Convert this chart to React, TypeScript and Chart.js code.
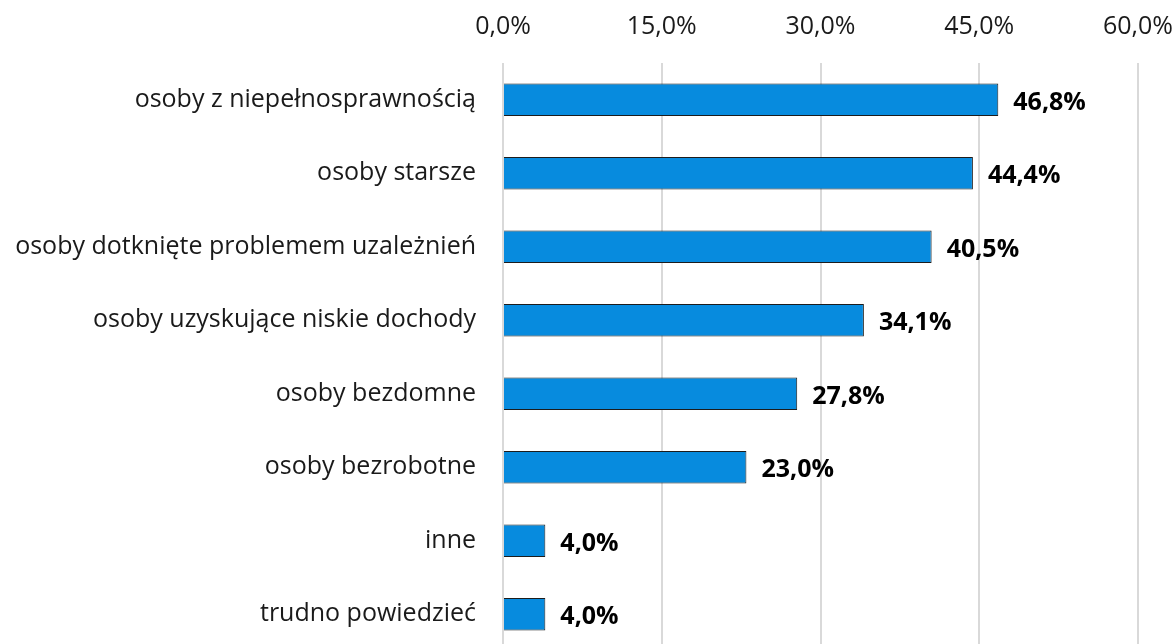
import React, { useEffect, useRef } from "react";
import { Chart, registerables } from "chart.js";

Chart.register(...registerables);

const categories = [
  "osoby z niepełnosprawnością",
  "osoby starsze",
  "osoby dotknięte problemem uzależnień",
  "osoby uzyskujące niskie dochody",
  "osoby bezdomne",
  "osoby bezrobotne",
  "inne",
  "trudno powiedzieć",
];
const values = [46.8, 44.4, 40.5, 34.1, 27.8, 23.0, 4.0, 4.0];
const tickValues = [0, 15, 30, 45, 60];

const fmt = (v: number) => v.toFixed(1).replace(".", ",") + "%";
const FONT = "'Open Sans', 'Segoe UI', sans-serif";

const labelPlugin = {
  id: "barLabels",
  afterDatasetsDraw(chart: any) {
    const ctx = chart.ctx;
    const meta = chart.getDatasetMeta(0);
    ctx.save();
    ctx.font = `bold 25px ${FONT}`;
    ctx.fillStyle = "#000000";
    ctx.textAlign = "left";
    ctx.textBaseline = "middle";
    meta.data.forEach((el: any, i: number) => {
      ctx.fillText(fmt(values[i]), el.x + 15, el.y + 3);
    });
    ctx.restore();
  },
};

export default function App() {
  const ref = useRef<HTMLCanvasElement | null>(null);
  useEffect(() => {
    if (!ref.current) return;
    const chart = new Chart(ref.current, {
      type: "bar",
      data: {
        labels: categories,
        datasets: [
          {
            data: values,
            backgroundColor: "#078BDE",
            borderColor: "#1c1c1c",
            borderWidth: 1,
            borderSkipped: "start",
            categoryPercentage: 1,
            barPercentage: 0.44,
          },
        ],
      },
      options: {
        indexAxis: "y",
        animation: false,
        responsive: false,
        maintainAspectRatio: false,
        devicePixelRatio: 1,
        layout: { padding: 0 },
        plugins: { legend: { display: false }, tooltip: { enabled: false } },
        scales: {
          x: {
            position: "top",
            min: 0,
            max: 60,
            afterBuildTicks: (s: any) => {
              s.ticks = tickValues.map((v) => ({ value: v }));
            },
            afterFit: (s: any) => {
              s.height = 63;
              s.paddingRight = 35;
              s.paddingLeft = 0;
            },
            ticks: {
              callback: (v: any) => fmt(Number(v)),
              font: { family: FONT, size: 25 },
              color: "#1a1a1a",
              padding: 21,
              maxRotation: 0,
            },
            grid: { color: "#d9d9d9", lineWidth: 2, drawTicks: false },
            border: { display: false },
          },
          y: {
            afterFit: (s: any) => {
              s.width = 503;
              s.paddingTop = 0;
              s.paddingBottom = 0;
            },
            ticks: {
              font: { family: FONT, size: 25 },
              color: "#1a1a1a",
              padding: 27,
            },
            grid: { display: false, drawTicks: false },
            border: { display: false },
          },
        },
      },
      plugins: [labelPlugin],
    });
    return () => chart.destroy();
  }, []);
  return (
    <div style={{ position: "fixed", left: 0, top: 0, width: 1173, height: 644, overflow: "hidden", background: "#fff" }}>
      <canvas ref={ref} width={1173} height={651} style={{ display: "block", width: 1173, height: 651 }} />
    </div>
  );
}
